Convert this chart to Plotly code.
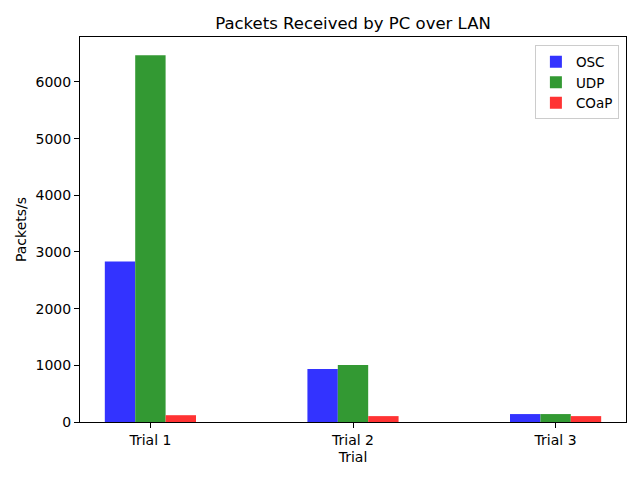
import plotly.graph_objects as go

trials = ["Trial 1", "Trial 2", "Trial 3"]
osc = [2830, 935, 140]
udp = [6470, 1005, 140]
coap = [120, 104, 104]

series = [("OSC", osc, "#3333ff"), ("UDP", udp, "#339933"), ("COaP", coap, "#ff3333")]

fig = go.Figure()
xs = list(range(len(trials)))
for name, vals, color in series:
    fig.add_trace(go.Bar(x=xs, y=vals, name=name, marker=dict(color=color, line=dict(width=0))))

ymax = max(udp) * 1.05
fig.update_layout(
    width=640, height=480,
    margin=dict(l=80, r=14, t=37, b=58),
    paper_bgcolor="white", plot_bgcolor="white",
    barmode="group", bargap=0.55, bargroupgap=0,
    font=dict(family="DejaVu Sans", size=14, color="black"),
    title=dict(text="Packets Received by PC over LAN", x=0.5, xanchor="center", xref="paper",
               y=1 - 23/480, yanchor="middle", font=dict(size=16.5)),
    legend=dict(x=0.987, y=0.978, xanchor="right", yanchor="top",
                bordercolor="#cccccc", borderwidth=1, bgcolor="rgba(255,255,255,0.8)",
                font=dict(size=13.5), tracegroupgap=0),
    showlegend=True,
)
fig.update_xaxes(range=[-0.3475, 2.3475], tickvals=xs, ticktext=trials,
                 showline=True, linecolor="black", linewidth=1, mirror=True,
                 ticks="outside", ticklen=5, tickcolor="black", showgrid=False, zeroline=False,
                 title=dict(text="Trial", font=dict(size=14), standoff=5))
fig.update_yaxes(range=[0, ymax], tickvals=[0, 1000, 2000, 3000, 4000, 5000, 6000],
                 showline=True, linecolor="black", linewidth=1, mirror=True,
                 ticks="outside", ticklen=5, tickcolor="black", showgrid=False, zeroline=False,
                 title=dict(text="Packets/s", font=dict(size=14), standoff=5))

fig.write_html("out.html", config={"displayModeBar": False},
               post_script="document.body.style.margin='0';")
